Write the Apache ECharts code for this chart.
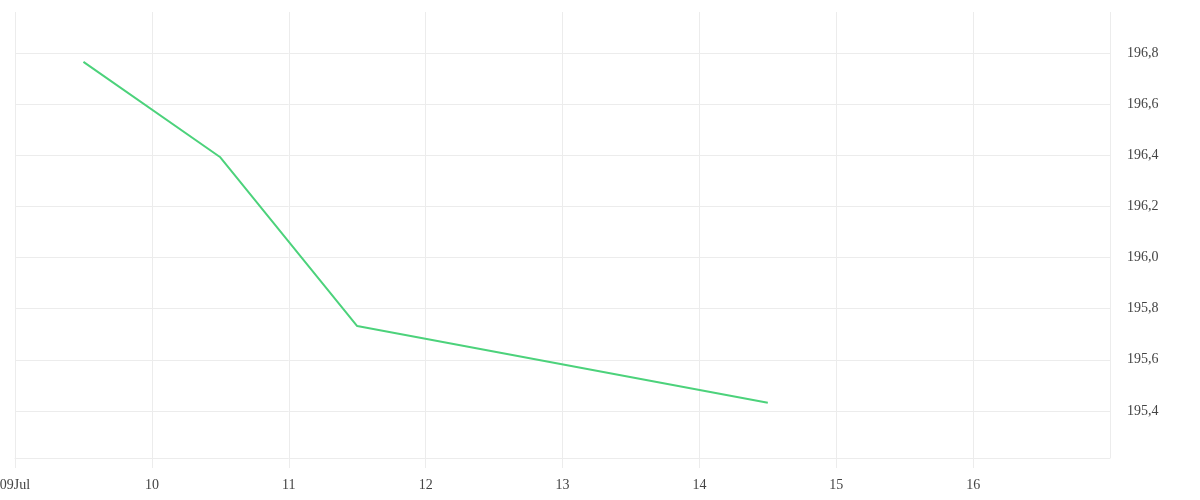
<!DOCTYPE html>
<html>
<head>
<meta charset="utf-8">
<script src="https://cdn.jsdelivr.net/npm/echarts@6/dist/echarts.min.js"></script>
<style>
html,body{margin:0;padding:0;background:#fff;}
#chart{width:1200px;height:500px;}
</style>
</head>
<body>
<div id="chart"></div>
<script>
// Data
var dates = ['2025-07-09T12:00:00', '2025-07-10T12:00:00', '2025-07-11T12:00:00', '2025-07-14T12:00:00'];
var values = [196.765, 196.392, 195.732, 195.432];
var xRange = ['2025-07-09T00:00:00', '2025-07-17T00:00:00'];
var yRange = [195.216, 196.96];

var chart = echarts.init(document.getElementById('chart'));
var gridColor = '#ececec';
var textColor = '#444';
var font = '"Liberation Serif", serif';

chart.setOption({
  animation: false,
  grid: { left: 15, right: 90, top: 12, bottom: 42, containLabel: false, outerBoundsMode: 'none' },
  xAxis: {
    type: 'time',
    min: new Date(xRange[0]).getTime(),
    max: new Date(xRange[1]).getTime(),
    minInterval: 86400000,
    maxInterval: 86400000,
    axisLine: { show: true, lineStyle: { color: gridColor, width: 1 } },
    axisTick: { show: true, length: 10, lineStyle: { color: gridColor } },
    splitLine: { show: true, lineStyle: { color: gridColor, width: 1 } },
    axisLabel: {
      color: textColor,
      fontFamily: font,
      fontSize: 14,
      margin: 20,
      showMaxLabel: false,
      hideOverlap: false,
      formatter: function (v) {
        var d = new Date(v);
        var dd = String(d.getDate()).padStart(2, '0');
        if (d.getDate() === 9) return dd + 'Jul';
        return dd;
      }
    }
  },
  yAxis: {
    type: 'value',
    position: 'right',
    min: yRange[0],
    max: yRange[1],
    splitNumber: 9,
    axisLine: { show: false },
    axisTick: { show: false },
    splitLine: { show: true, showMinLine: false, showMaxLine: false, lineStyle: { color: gridColor, width: 1 } },
    axisLabel: {
      color: textColor,
      fontFamily: font,
      fontSize: 14,
      margin: 17,
      padding: [4, 0, 0, 0],
      showMinLabel: false,
      showMaxLabel: false,
      formatter: function (v) { return v.toFixed(1).replace('.', ','); }
    }
  },
  series: [{
    type: 'line',
    data: dates.map(function (d, i) { return [new Date(d).getTime(), values[i]]; }),
    showSymbol: false,
    symbol: 'none',
    lineStyle: { color: '#4cd27b', width: 2 },
    itemStyle: { color: '#4cd27b' }
  }]
});
</script>
</body>
</html>
